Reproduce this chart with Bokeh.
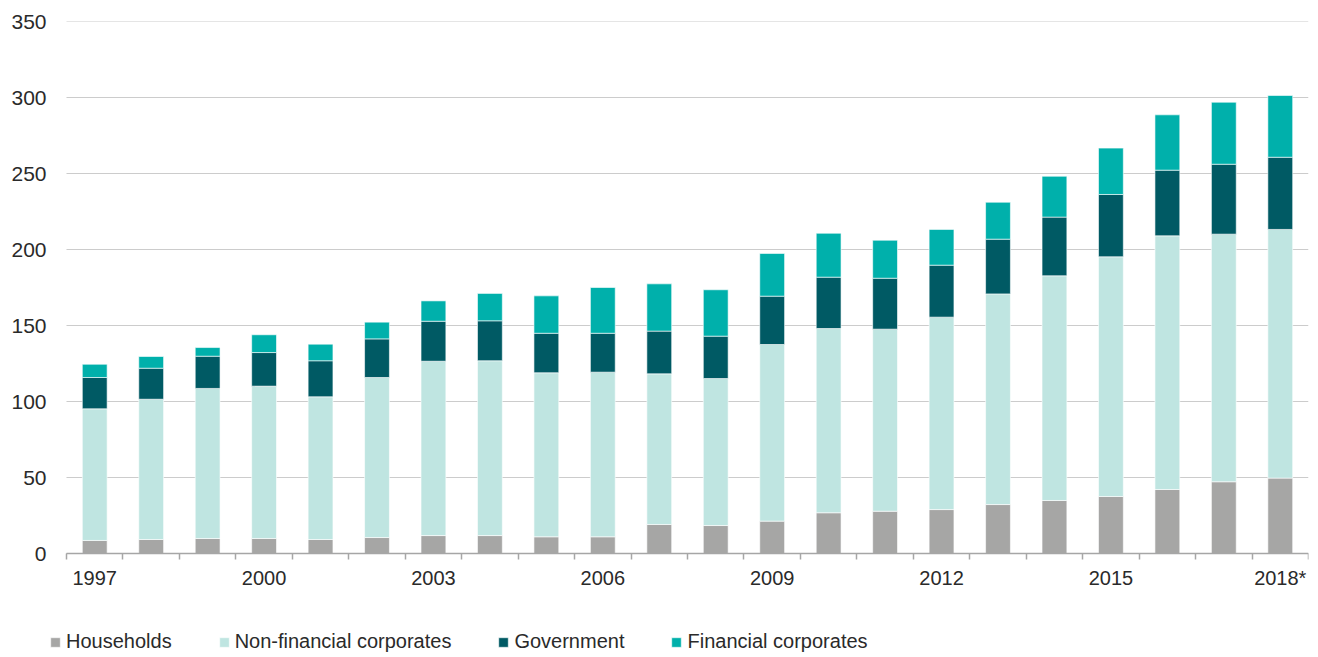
from bokeh.plotting import figure
from bokeh.models import ColumnDataSource, FixedTicker, Legend, LegendItem, Range1d
from bokeh.embed import file_html
from bokeh.resources import INLINE

categories = ["1997", "1998", "1999", "2000", "2001", "2002", "2003", "2004", "2005", "2006",
              "2007", "2008", "2009", "2010", "2011", "2012", "2013", "2014", "2015", "2016",
              "2017", "2018*"]
tick_labels = ["1997", "2000", "2003", "2006", "2009", "2012", "2015", "2018*"]
y_ticks = [0, 50, 100, 150, 200, 250, 300, 350]

households = [8.6, 9.2, 9.9, 9.9, 9.2, 10.5, 11.8, 11.8, 11.0, 11.0, 19.1, 18.4, 21.3, 26.8,
              27.8, 28.9, 32.2, 34.9, 37.5, 42.1, 47.2, 49.6]
non_financial = [86.6, 92.3, 98.7, 100.2, 93.9, 105.3, 114.7, 115.0, 107.9, 108.3, 99.1, 96.7,
                 116.2, 121.2, 119.8, 126.6, 138.6, 147.8, 157.7, 166.9, 162.9, 163.6]
government = [20.6, 20.4, 21.2, 22.1, 23.7, 25.4, 26.3, 26.3, 26.0, 25.6, 28.1, 27.9, 31.8,
              33.8, 33.5, 34.2, 36.0, 38.6, 41.0, 43.2, 46.0, 47.5]
financial = [8.7, 7.7, 5.7, 11.7, 10.9, 11.0, 13.4, 18.0, 24.6, 30.1, 31.1, 30.5, 28.1, 28.9,
             25.0, 23.5, 24.3, 26.9, 30.5, 36.4, 40.8, 40.6]

series_names = ["Households", "Non-financial corporates", "Government", "Financial corporates"]
colors = ["#a6a6a5", "#bfe5e1", "#005a64", "#00b0ab"]

FONT = "Liberation Sans"
TEXT_COLOR = "#2a2a2a"

n = len(categories)
x = list(range(n))
source = ColumnDataSource(dict(x=x, hh=households, nfc=non_financial, gov=government, fin=financial))

# frame extends below zero (legend room) and a little left of the first category (legend start)
p = figure(width=1310, height=657, output_backend="svg", toolbar_location=None,
           x_range=Range1d(-0.801, n - 0.5), y_range=Range1d(-68.42, 350),
           min_border_left=49, min_border_right=2, min_border_top=21, min_border_bottom=0)
p.outline_line_color = None
p.background_fill_color = "white"
p.border_fill_color = "white"

# horizontal gridlines limited to the category span
p.ygrid.grid_line_color = None
p.xgrid.grid_line_color = None
p.segment(x0=[-0.5] * len(y_ticks), x1=[n - 0.5] * len(y_ticks), y0=y_ticks, y1=y_ticks,
          line_color="#cccccc", line_width=1, level="underlay")

renderers = p.vbar_stack(["hh", "nfc", "gov", "fin"], x="x", width=0.44, color=colors,
                         source=source, line_color="white", line_width=0.6)

# x axis, pinned at y = 0
tick_pos = [categories.index(t) for t in tick_labels]
p.xaxis.fixed_location = 0
p.xaxis.bounds = (-0.5, n - 0.5)
p.xaxis.ticker = FixedTicker(ticks=tick_pos,
                             minor_ticks=[i - 0.5 for i in range(n + 1)])
p.xaxis.major_label_overrides = {pos: lab for pos, lab in zip(tick_pos, tick_labels)}
p.xaxis.major_tick_out = 0
p.xaxis.major_tick_in = 0
p.xaxis.minor_tick_out = 6
p.xaxis.minor_tick_in = 0
p.xaxis.minor_tick_line_color = "#a6a6a6"
p.xaxis.minor_tick_line_width = 1.5
p.xaxis.axis_line_color = "#a6a6a6"
p.xaxis.axis_line_width = 1.5
p.xaxis.major_label_standoff = 7
p.xaxis.major_label_text_font = FONT
p.xaxis.major_label_text_font_size = "20px"
p.xaxis.major_label_text_color = TEXT_COLOR

# y axis
p.yaxis.ticker = FixedTicker(ticks=y_ticks)
p.yaxis.axis_line_color = None
p.yaxis.major_tick_line_color = None
p.yaxis.minor_tick_line_color = None
p.yaxis.major_label_standoff = -3
p.yaxis.major_label_text_font = FONT
p.yaxis.major_label_text_font_size = "21px"
p.yaxis.major_label_text_color = TEXT_COLOR

legend = Legend(items=[LegendItem(label=s, renderers=[r]) for s, r in zip(series_names, renderers)],
                orientation="horizontal", location=(0, 4),
                glyph_width=12, glyph_height=12, label_standoff=5, spacing=46,
                padding=0, margin=0, border_line_color=None, background_fill_alpha=0,
                label_text_font=FONT, label_text_font_size="20px", label_text_color=TEXT_COLOR,
                label_height=20)
p.add_layout(legend)

open("out.html", "w").write(file_html(p, INLINE))
